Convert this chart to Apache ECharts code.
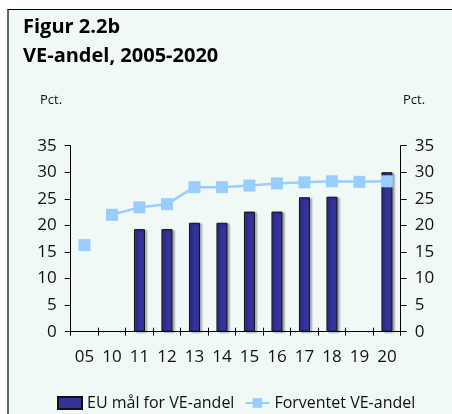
<!DOCTYPE html>
<html>
<head>
<meta charset="utf-8">
<script src="https://cdn.jsdelivr.net/npm/echarts@6/dist/echarts.min.js"></script>
<style>
  html, body { margin: 0; padding: 0; background: #ffffff; }
  #chart { width: 452px; height: 414px; }
</style>
</head>
<body>
<div id="chart"></div>
<script>
// år (akse-etiketter)
const years = ['05', '10', '11', '12', '13', '14', '15', '16', '17', '18', '19', '20'];
// EU mål for VE-andel (søjler), tomme år = null
const euTarget = [null, null, 19.3, 19.3, 20.5, 20.5, 22.6, 22.6, 25.3, 25.4, null, 30.0];
// Forventet VE-andel (linje) - 2005 står alene, ikke forbundet
const expected05 = [16.3, null, null, null, null, null, null, null, null, null, null, null];
const expected = [null, 22.0, 23.4, 24.0, 27.2, 27.2, 27.5, 27.9, 28.1, 28.3, 28.2, 28.3];
const yTicks = { min: 0, max: 35, step: 5 };

const FONT = 'Open Sans';
const lineColor = '#99ccff';
const barColor = '#333399';

let chart = echarts.init(document.getElementById('chart'));

function yAxisCfg(pos){
    return {
        type: 'value',
        position: pos,
        min: yTicks.min,
        max: yTicks.max,
        interval: yTicks.step,
        axisLine: { show: true, lineStyle: { color: '#000', width: 1 } },
        axisTick: { show: true, length: 6, lineStyle: { color: '#000' } },
        splitLine: { show: false },
        axisLabel: { color: '#111', fontSize: 17, fontFamily: FONT, margin: 14 }
    };
}

function lineSeries(data){
    return {
        name: 'Forventet VE-andel',
        type: 'line',
        data: data,
        symbol: 'rect',
        symbolSize: 12,
        z: 5,
        lineStyle: { color: lineColor, width: 2.5 },
        itemStyle: { color: lineColor },
        connectNulls: false
    };
}

let option = {
    animation: false,
    backgroundColor: '#ffffff',
    graphic: [
        {
            type: 'rect', z: -10,
            shape: { x: 8, y: 9.5, width: 460, height: 420 },
            style: { fill: '#f1f9f6', stroke: '#000', lineWidth: 1.2 }
        },
        { type: 'text', left: 23, top: 17, style: { text: 'Figur 2.2b', font: 'bold 20px "Open Sans"', fill: '#000' } },
        { type: 'text', left: 23, top: 46, style: { text: 'VE-andel, 2005-2020', font: 'bold 20px "Open Sans"', fill: '#000' } },
        { type: 'text', left: 40, top: 94, style: { text: 'Pct.', font: '13px "Open Sans"', fill: '#111' } },
        { type: 'text', left: 403, top: 94, style: { text: 'Pct.', font: '13px "Open Sans"', fill: '#111' } }
    ],
    grid: { left: 70.7, right: 51.3, top: 145.7, bottom: 82.3 },
    legend: {
        left: 52, top: 390,
        itemWidth: 24, itemHeight: 12, itemGap: 10,
        textStyle: { color: '#111', fontSize: 16, fontFamily: FONT },
        data: [
            { name: 'EU mål for VE-andel', icon: 'rect' },
            'Forventet VE-andel'
        ]
    },
    xAxis: [
        {
            type: 'category',
            data: years,
            axisLine: { show: true, lineStyle: { color: '#000', width: 1 } },
            axisTick: { show: true, length: 4, lineStyle: { color: '#000' } },
            axisLabel: { color: '#111', fontSize: 17, fontFamily: FONT, margin: 17 }
        },
        {
            // indvendige tick-streger så de krydser aksen
            type: 'category',
            position: 'bottom',
            data: years,
            axisLine: { show: false },
            axisTick: { show: true, inside: true, length: 4, lineStyle: { color: '#000' } },
            axisLabel: { show: false }
        }
    ],
    yAxis: [yAxisCfg('left'), yAxisCfg('right')],
    series: [
        {
            name: 'EU mål for VE-andel',
            type: 'bar',
            data: euTarget,
            barWidth: 11,
            itemStyle: {
                color: barColor,
                borderColor: '#111',
                borderWidth: 1,
                shadowColor: 'rgba(0,0,0,0.35)',
                shadowOffsetX: 2,
                shadowOffsetY: 1,
                shadowBlur: 2
            }
        },
        lineSeries(expected05),
        lineSeries(expected)
    ]
};

chart.setOption(option);
</script>
</body>
</html>
